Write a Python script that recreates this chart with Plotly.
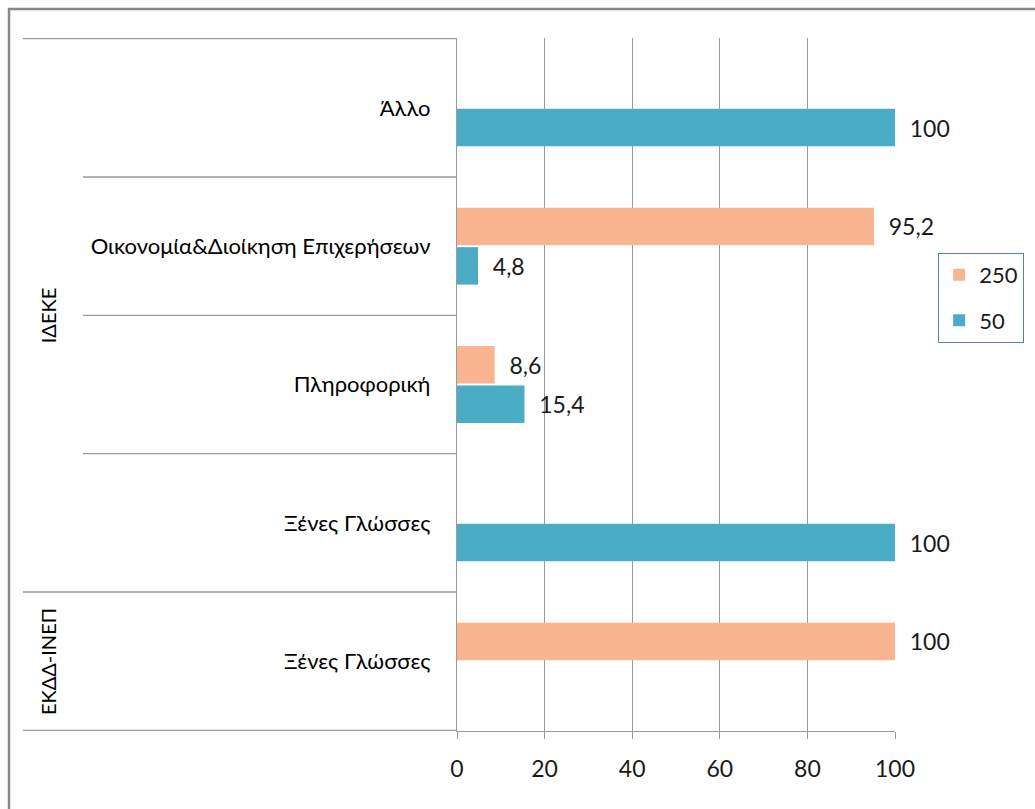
import plotly.graph_objects as go

# Rows from top to bottom: (group, programme)
groups = ["ΙΔΕΚΕ", "ΙΔΕΚΕ", "ΙΔΕΚΕ", "ΙΔΕΚΕ", "ΕΚΔΔ-ΙΝΕΠ"]
programmes = ["Άλλο", "Οικονομία&Διοίκηση Επιχερήσεων", "Πληροφορική",
              "Ξένες Γλώσσες", "Ξένες Γλώσσες"]
row_keys = [f"{g}|{p}" for g, p in zip(groups, programmes)]

series_names = ["250", "50"]
values_250 = [None, 95.2, 8.6, None, 100]
values_50 = [100, 4.8, 15.4, 100, None]
series_colors = ["#F9B590", "#4BACC6"]

x_ticks = [0, 20, 40, 60, 80, 100]

FONT = "Lato, 'Open Sans', sans-serif"
GRID = "#9A9A9A"

fig = go.Figure()
for name, vals, col in zip(series_names, [values_250, values_50], series_colors):
    fig.add_trace(go.Bar(
        y=row_keys, x=vals, name=name, orientation="h", legendgroup=name,
        marker=dict(color=col, line=dict(width=0)),
        texttemplate="\u00a0\u00a0%{x}", textposition="outside",
        textfont=dict(family=FONT, size=23, color="#1a1a1a"),
        cliponaxis=False,
    ))

shapes = []
n = len(row_keys)
# divider lines between category rows (multi-level axis)
for i in range(n + 1):
    b = i - 0.5
    if b in (-0.5, 3.5, n - 0.5):
        x0 = -0.991
    else:
        x0 = -0.854
    shapes.append(dict(type="line", xref="paper", yref="y", x0=x0, x1=0,
                       y0=b, y1=b, line=dict(color=GRID, width=1.3)))
# outer chart border
shapes.append(dict(type="rect", xref="paper", yref="paper",
                   x0=-1.0228, x1=1.5, y0=-0.3, y1=1.0418,
                   line=dict(color="#888888", width=2.5)))

annotations = [
    dict(text="ΙΔΕΚΕ", xref="paper", yref="y", x=-0.934, y=1.5,
         xanchor="center", yanchor="middle", textangle=-90, showarrow=False,
         font=dict(family=FONT, size=20, color="black")),
    dict(text="ΕΚΔΔ-ΙΝΕΠ", xref="paper", yref="y", x=-0.934, y=4,
         xanchor="center", yanchor="middle", textangle=-90, showarrow=False,
         font=dict(family=FONT, size=20, color="black")),
]

fig.update_layout(
    width=1035, height=809,
    margin=dict(l=457, r=139, t=38, b=78),
    paper_bgcolor="white", plot_bgcolor="white",
    barmode="group", bargap=0.43, bargroupgap=0.05,
    separators=",.",
    font=dict(family=FONT, color="black"),
    shapes=shapes, annotations=annotations,
    legend=dict(x=1.096, y=0.69, xanchor="left", yanchor="top",
                bordercolor="#4F81BD", borderwidth=1, bgcolor="white",
                font=dict(family=FONT, size=22, color="#1a1a1a"),
                traceorder="grouped", itemwidth=30, tracegroupgap=14),
    xaxis=dict(range=[0, 100], tickvals=x_ticks, showgrid=True,
               gridcolor=GRID, gridwidth=1.3, zeroline=False,
               showline=True, linecolor=GRID, linewidth=1.3,
               ticks="outside", ticklen=7, tickcolor=GRID, tickwidth=1.3,
               ticklabelstandoff=10,
               tickfont=dict(family=FONT, size=23, color="#1a1a1a")),
    yaxis=dict(categoryorder="array", categoryarray=row_keys,
               autorange="reversed", tickvals=row_keys, ticktext=programmes,
               showgrid=False, zeroline=False, showline=True,
               linecolor=GRID, linewidth=1.3, ticks="",
               ticklabelstandoff=21,
               tickfont=dict(family=FONT, size=22, color="black")),
)

fig.write_html("out.html")
